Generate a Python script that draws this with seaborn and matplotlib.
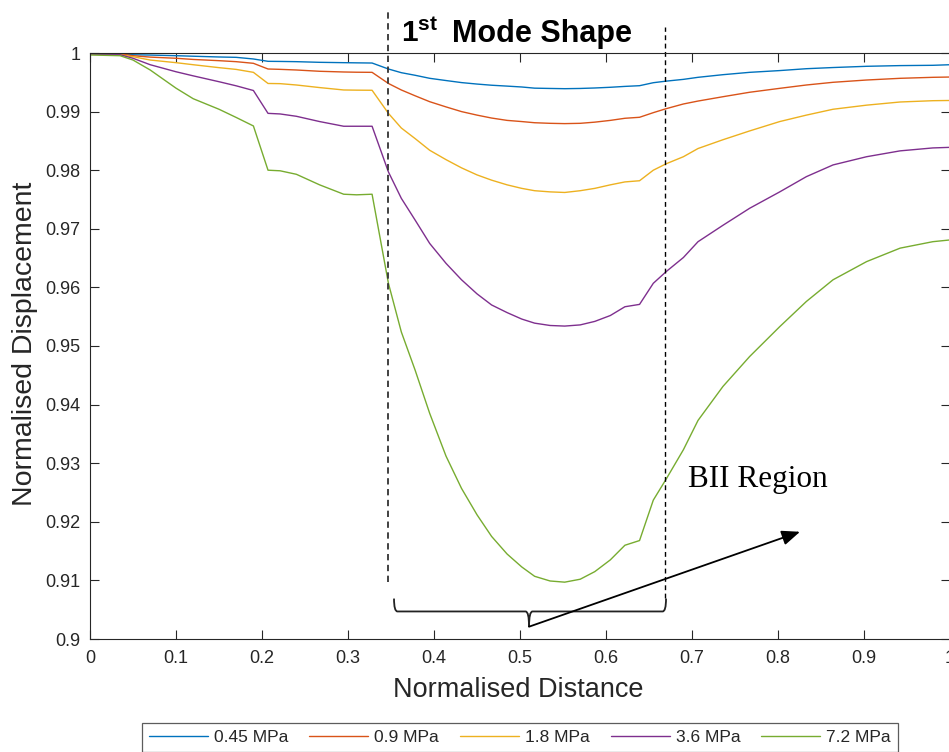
import numpy as np
import pandas as pd
import matplotlib
matplotlib.use("Agg")
import matplotlib.pyplot as plt
import seaborn as sns
from matplotlib.path import Path
from matplotlib.patches import PathPatch

# ---------------- data ----------------
distance = [0, 0.035, 0.05, 0.07, 0.1, 0.12, 0.15, 0.17, 0.19, 0.207, 0.221, 0.24, 0.267,
            0.295, 0.31, 0.328, 0.347, 0.362, 0.378, 0.395, 0.414, 0.432, 0.45, 0.467,
            0.485, 0.502, 0.517, 0.535, 0.552, 0.57, 0.587, 0.605, 0.622, 0.639, 0.655,
            0.67, 0.69, 0.707, 0.736, 0.767, 0.802, 0.833, 0.864, 0.903, 0.942, 0.98, 1.0]

disp_045 = [0.99995, 0.9999, 0.9997, 0.99965, 0.99954, 0.99945, 0.99932, 0.99926, 0.99898,
            0.99858, 0.99856, 0.99852, 0.99841, 0.99835, 0.99832, 0.99829, 0.99727, 0.99664,
            0.9962, 0.99568, 0.9953, 0.99495, 0.9947, 0.9945, 0.99435, 0.9942, 0.9940,
            0.99395, 0.99391, 0.99395, 0.99403, 0.99415, 0.9943, 0.99442, 0.99493, 0.9952,
            0.9955, 0.99585, 0.9963, 0.9967, 0.9970, 0.99732, 0.99752, 0.99773, 0.99785,
            0.9979, 0.9980]

disp_09 = [0.9999, 0.99985, 0.99954, 0.9993, 0.9991, 0.9989, 0.99869, 0.99852, 0.99824,
           0.99727, 0.99721, 0.9971, 0.99688, 0.99676, 0.99672, 0.9967, 0.9948, 0.99369,
           0.9927, 0.99169, 0.9908, 0.9900, 0.9894, 0.9889, 0.9885, 0.9883, 0.9881,
           0.9880, 0.98795, 0.9880, 0.9882, 0.9885, 0.98886, 0.98903, 0.98982, 0.9905,
           0.9913, 0.9918, 0.99254, 0.9933, 0.99397, 0.99454, 0.9950, 0.99539, 0.99568,
           0.99585, 0.9959]

disp_18 = [0.9998, 0.9997, 0.99937, 0.9988, 0.99835, 0.9980, 0.9975, 0.9972, 0.9967,
           0.9948, 0.99477, 0.99454, 0.9941, 0.99369, 0.99366, 0.99364, 0.9897, 0.9872,
           0.9854, 0.9834, 0.9818, 0.9804, 0.9792, 0.9783, 0.9775, 0.9769, 0.9765,
           0.9763, 0.9762, 0.9765, 0.9769, 0.9775, 0.9780, 0.9782, 0.9800, 0.9811,
           0.9823, 0.9837, 0.9852, 0.9867, 0.9883, 0.9894, 0.9904, 0.9911, 0.99164,
           0.99186, 0.9919]

disp_36 = [0.9998, 0.9997, 0.9991, 0.9980, 0.9968, 0.9961, 0.9951, 0.9944, 0.9936,
           0.9897, 0.9896, 0.9892, 0.9883, 0.9875, 0.9875, 0.9875, 0.9797, 0.9752,
           0.9715, 0.9675, 0.9641, 0.9613, 0.9589, 0.9570, 0.9557, 0.9546, 0.9539,
           0.9535, 0.9534, 0.9536, 0.9542, 0.9552, 0.9567, 0.9571, 0.9607, 0.9627,
           0.9651, 0.9678, 0.9706, 0.9735, 0.9763, 0.9789, 0.9809, 0.9823, 0.9833,
           0.9838, 0.9839]

disp_72 = [0.99966, 0.99954, 0.9988, 0.9971, 0.9940, 0.9922, 0.9904, 0.9890, 0.98755,
           0.9800, 0.9799, 0.9793, 0.9775, 0.9759, 0.9758, 0.9759, 0.9607, 0.9524,
           0.9459, 0.9385, 0.9312, 0.9257, 0.9212, 0.9175, 0.9145, 0.9123, 0.9107,
           0.9099, 0.9097, 0.9102, 0.9115, 0.9135, 0.9160, 0.9168, 0.9237, 0.9273,
           0.9323, 0.9373, 0.9431, 0.9482, 0.9533, 0.9576, 0.9613, 0.9644, 0.9667,
           0.9678, 0.9681]

series_labels = ["0.45 MPa", "0.9 MPa", "1.8 MPa", "3.6 MPa", "7.2 MPa"]
series_values = [disp_045, disp_09, disp_18, disp_36, disp_72]
colors = ["#0072BD", "#D95319", "#EDB120", "#7E2F8E", "#77AC30"]

x_ticks = [0, 0.1, 0.2, 0.3, 0.4, 0.5, 0.6, 0.7, 0.8, 0.9, 1.0]
x_ticklabels = ["0", "0.1", "0.2", "0.3", "0.4", "0.5", "0.6", "0.7", "0.8", "0.9", "1"]
y_ticks = [0.9, 0.91, 0.92, 0.93, 0.94, 0.95, 0.96, 0.97, 0.98, 0.99, 1.0]
y_ticklabels = ["0.9", "0.91", "0.92", "0.93", "0.94", "0.95", "0.96", "0.97", "0.98", "0.99", "1"]

mode_region = [0.3465, 0.6686]   # dashed boundaries of the 1st mode region

# ---------------- style ----------------
sns.set_style("ticks")
plt.rcParams["font.family"] = ["Liberation Sans", "DejaVu Sans"]
plt.rcParams["mathtext.fontset"] = "custom"
plt.rcParams["mathtext.bf"] = "Liberation Sans:bold"
plt.rcParams["mathtext.rm"] = "Liberation Sans"
plt.rcParams["mathtext.it"] = "Liberation Sans:italic"

axis_col = "#262626"

df = pd.DataFrame({
    "Normalised Distance": np.tile(distance, len(series_labels)),
    "Normalised Displacement": np.concatenate(series_values),
    "Pressure": np.repeat(series_labels, len(distance)),
})

W, H = 949, 752
fig = plt.figure(figsize=(W / 100, H / 100), dpi=100)
ax = fig.add_axes([90 / W, (H - 639) / H, 860 / W, 586 / H])

sns.lineplot(data=df, x="Normalised Distance", y="Normalised Displacement",
             hue="Pressure", hue_order=series_labels, palette=colors,
             estimator=None, sort=False, linewidth=1.0, legend=False, ax=ax)

ax.set_xlim(0, 1)
ax.set_ylim(0.9, 1.0)
ax.set_xticks(x_ticks)
ax.set_xticklabels(x_ticklabels)
ax.set_yticks(y_ticks)
ax.set_yticklabels(y_ticklabels)
ax.tick_params(direction="in", length=6.5, width=0.8, color=axis_col,
               labelsize=13, labelcolor=axis_col, top=True, right=True)
ax.tick_params(axis="x", pad=8)
ax.tick_params(axis="y", pad=7)
for s in ax.spines.values():
    s.set_visible(True)
    s.set_color(axis_col)
    s.set_linewidth(0.8)

ax.set_xlabel("Normalised Distance", fontsize=19.5, color=axis_col)
ax.set_ylabel("Normalised Displacement", fontsize=20.5, color=axis_col)
ax.xaxis.set_label_coords(0.498, -0.087)
ax.xaxis.label.set_va("center")
ax.yaxis.set_label_coords(-0.0756, 0.504)
ax.yaxis.label.set_va("center")

# dashed region boundaries
ax.plot([mode_region[0], mode_region[0]], [0.9097, 1.007], ls=(0, (3.5, 2.5)),
        color="#333333", lw=1.3, clip_on=False)
ax.plot([mode_region[1], mode_region[1]], [0.907, 1.0044], ls=(0, (3.5, 2.5)),
        color="black", lw=1.0, clip_on=False)

# curly brace under region
xl, xr = 0.3535, 0.6698
xm = 0.5105
yb, ye, yc = 0.9047, 0.9069, 0.9021
r = 0.004
verts = [(xl, ye), (xl, yb), (xl + r, yb),
         (xm - r, yb), (xm, yb), (xm, yc),
         (xm, yb), (xm + r, yb),
         (xr - r, yb), (xr, yb), (xr, ye)]
codes = [Path.MOVETO, Path.CURVE3, Path.CURVE3,
         Path.LINETO, Path.CURVE3, Path.CURVE3,
         Path.CURVE3, Path.CURVE3,
         Path.LINETO, Path.CURVE3, Path.CURVE3]
ax.add_patch(PathPatch(Path(verts, codes), fill=False, lw=1.3, color="#222222", clip_on=False))

# arrow
ax.annotate("", xy=(0.8256, 0.9183), xytext=(xm, yc),
            arrowprops=dict(arrowstyle="-|>,head_length=1.1,head_width=0.45",
                            color="black", lw=1.3, shrinkA=0, shrinkB=0))

ax.text(0.6953, 0.926, "BII Region", family=["Liberation Serif", "DejaVu Serif"],
        fontsize=22.5, color="black", va="baseline", ha="left")

fig.text(401 / W, 1 - 42 / H, r"$\mathbf{1^{st}}$", fontsize=21.5,
         fontweight="bold", color="black", va="baseline", ha="left")
fig.text(452 / W, 1 - 42 / H, "Mode Shape", fontsize=22,
         fontweight="bold", color="black", va="baseline", ha="left")

handles = ax.get_lines()[:5]
leg = fig.legend(handles, series_labels, loc="lower center", ncol=5,
                 bbox_to_anchor=(520 / W, 0.0), fontsize=12.5, frameon=True,
                 fancybox=False, edgecolor="#333333", handlelength=3.4,
                 handletextpad=0.35, columnspacing=1.2, borderpad=0.4,
                 borderaxespad=0.0)
leg.get_frame().set_linewidth(0.9)
for t in leg.get_texts():
    t.set_color(axis_col)

fig.savefig("out.png", dpi=100)
